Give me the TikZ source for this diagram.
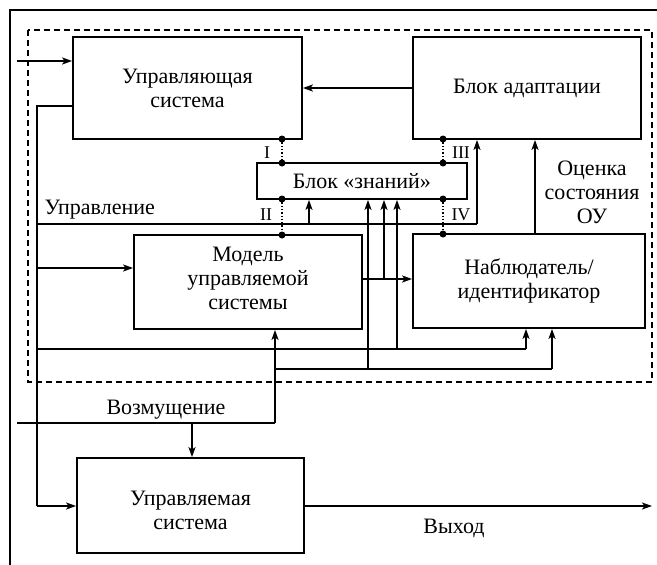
\documentclass[tikz,border=0pt]{standalone}
\usepackage{fontspec}
\setmainfont{Liberation Serif}
\usetikzlibrary{arrows.meta,calc}
\begin{document}
\begin{tikzpicture}[x=1pt,y=-1pt,
  every node/.style={align=center},
  font=\fontsize{22}{24}\selectfont,
  blk/.style={draw,line width=1.8pt,minimum width=#1,inner sep=0pt,align=center},
  thin/.style={line width=1.1pt},
  med/.style={line width=1.6pt},
  arr/.style={-{Stealth[length=10pt,width=7pt,inset=2.5pt]}},
  dotc/.style={line width=1.3pt,dotted},
  dotm/.style={circle,fill,inner sep=0pt,minimum size=7pt},
  rom/.style={font=\fontsize{18}{20}\selectfont}]
\useasboundingbox (0,0) rectangle (657,565);
% frames
\draw[line width=1.8pt] (10,565) -- (10,10) -- (657,10);
\draw[line width=1.1pt,dash pattern=on 6pt off 4pt] (28,30) rectangle (652,382);
% blocks
\node[blk=229pt,minimum height=102pt] (ctrl) at (187.5,88) {Управляющая\\система};
\node[blk=228pt,minimum height=102pt] (adapt) at (527,88) {Блок адаптации};
\node[blk=210pt,minimum height=36pt] (kn) at (362,181) {Блок «знаний»};
\node[blk=228pt,minimum height=94pt] (model) at (248,282) {};
\node (mt) at (248,278.5) {Модель\\управляемой\\системы};
\node[blk=232pt,minimum height=94pt] (obs) at (529,281) {Наблюдатель/\\идентификатор};
\node[blk=227pt,minimum height=95pt] (man) at (190.5,505.5) {};
\node (mant) at (190.5,510) {Управляемая\\система};
% labels
\node[anchor=west] (lu) at (41,210) {Управление};
\node (lv) at (166,410) {Возмущение};
\node (lo) at (454,528) {Выход};
\node (le) at (592,192) {Оценка\\состояния\\ОУ};
\node[rom] (l1) at (267,153) {I};
\node[rom] (l2) at (266,215) {II};
\node[rom] (l3) at (461,153) {III};
\node[rom] (l4) at (461,215) {IV};
% coordinates
\coordinate (in1) at (17,61);
\coordinate (cL) at (37,106);
\coordinate (u1) at (37,224);
\coordinate (u2) at (477,224);
\coordinate (b1) at (309,224);
\coordinate (m1) at (37,268);
\coordinate (c1) at (37,349);
\coordinate (o1) at (526,349);
\coordinate (k3) at (397,349);
\coordinate (mo) at (362,279);
\coordinate (k2) at (384,279);
\coordinate (d0) at (17,423);
\coordinate (d1) at (275,423);
\coordinate (d2) at (192,423);
\coordinate (e1) at (275,369);
\coordinate (e2) at (552,369);
\coordinate (k1) at (368,369);
\coordinate (ob) at (535,234);
\coordinate (out) at (652,506);
% connectors
\draw[med,arr] (in1) -- (in1 -| ctrl.west);
\draw[med,arr] (adapt.west) -- (ctrl.east);
\draw[thin] (ctrl.west |- cL) -- (cL) -- (cL |- out);
\draw[med,arr] (cL |- out) -- (man.west |- out);
\draw[thin] (u1) -- (u2);
\draw[med,arr] (u2) -- (u2 |- adapt.south);
\draw[med,arr] (b1) -- (b1 |- kn.south);
\draw[med,arr] (m1) -- (m1 -| model.west);
\draw[thin] (c1) -- (o1);
\draw[med,arr] (o1) -- (o1 |- obs.south);
\draw[med,arr] (k3) -- (k3 |- kn.south);
\draw[med,arr] (mo) -- (mo -| obs.west);
\draw[med,arr] (k2) -- (k2 |- kn.south);
\draw[thin] (d0) -- (d1);
\draw[med,arr] (d1) -- (d1 |- model.south);
\draw[med,arr] (d2) -- (d2 |- man.north);
\draw[med] (e1) -- (e2);
\draw[med,arr] (e2) -- (e2 |- obs.south);
\draw[med,arr] (k1) -- (k1 |- kn.south);
\draw[med,arr] (ob) -- (ob |- adapt.south);
\draw[med,arr] (man.east |- out) -- (out);
% dotted links
\draw[dotc] (282,139) -- (282,163);
\draw[dotc] (443,139) -- (443,163);
\draw[dotc] (282,199) -- (282,235);
\draw[dotc] (443,199) -- (443,234);
\foreach \p in {(282,139),(282,163),(443,139),(443,163),(282,199),(282,235),(443,199),(443,234)}
  \node[dotm] at \p {};
\end{tikzpicture}
\end{document}
